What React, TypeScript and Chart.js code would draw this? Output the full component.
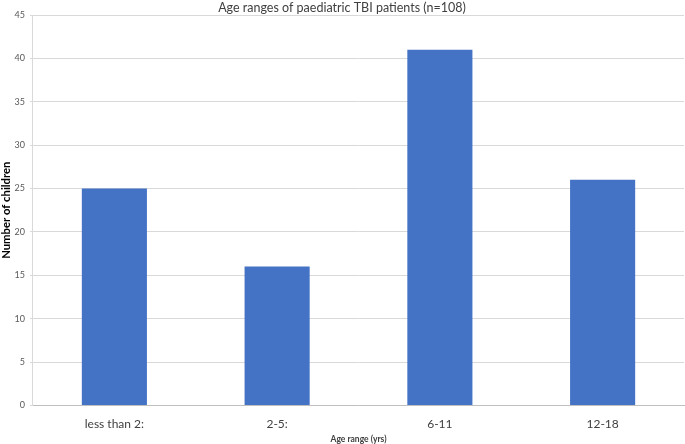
import React, { useEffect, useRef } from "react";
import { Chart, registerables } from "chart.js";

Chart.register(...registerables);

const categories = ["less than 2:", "2-5:", "6-11", "12-18"];
const counts = [25, 16, 41, 26];
const chartTitle = "Age ranges of paediatric TBI patients (n=108)";
const xTitle = "Age range (yrs)";
const yTitle = "Number of children";
const yMax = 45;
const yStep = 5;

export default function App() {
  const ref = useRef<HTMLCanvasElement | null>(null);
  useEffect(() => {
    if (!ref.current) return;
    const font = "Lato, 'Noto Sans', sans-serif";
    const chart = new Chart(ref.current, {
      type: "bar",
      data: {
        labels: categories,
        datasets: [
          {
            data: counts,
            backgroundColor: "#4472C4",
            borderWidth: 0,
            categoryPercentage: 1,
            barPercentage: 0.4,
          },
        ],
      },
      options: {
        animation: false,
        responsive: false,
        maintainAspectRatio: false,
        layout: { padding: { top: 0, right: 1, bottom: 0, left: 0 } },
        plugins: {
          legend: { display: false },
          tooltip: { enabled: false },
          title: {
            display: true,
            text: chartTitle,
            color: "#404040",
            font: { family: font, size: 12.5, weight: "normal" },
            padding: { top: 0, bottom: 0 },
          },
        },
        scales: {
          x: {
            grid: { display: false, drawTicks: false },
            border: { display: true, color: "#BFBFBF", width: 1 },
            ticks: {
              color: "#404040",
              font: { family: font, size: 12 },
              padding: 12,
            },
            title: {
              display: true,
              text: xTitle,
              color: "#404040",
              font: { family: font, size: 8.5, weight: "bold" },
              padding: { top: -10, bottom: 0 },
            },
          },
          y: {
            min: 0,
            max: yMax,
            grid: {
              color: "#D9D9D9",
              lineWidth: 1,
              drawTicks: true,
              tickLength: 3,
              tickColor: "#D9D9D9",
            },
            border: { display: true, color: "#D9D9D9", width: 1 },
            ticks: {
              stepSize: yStep,
              color: "#595959",
              font: { family: font, size: 9 },
              padding: 5,
            },
            title: {
              display: true,
              text: yTitle,
              color: "#000000",
              font: { family: font, size: 11.3, weight: "bold" },
              padding: { top: 0, bottom: -4 },
            },
          },
        },
      },
    });
    return () => chart.destroy();
  }, []);
  return (
    <div style={{ position: "fixed", left: 0, top: 0, width: 685, height: 444, background: "#fff" }}>
      <canvas ref={ref} width={685} height={444} style={{ width: 685, height: 444 }} />
    </div>
  );
}
